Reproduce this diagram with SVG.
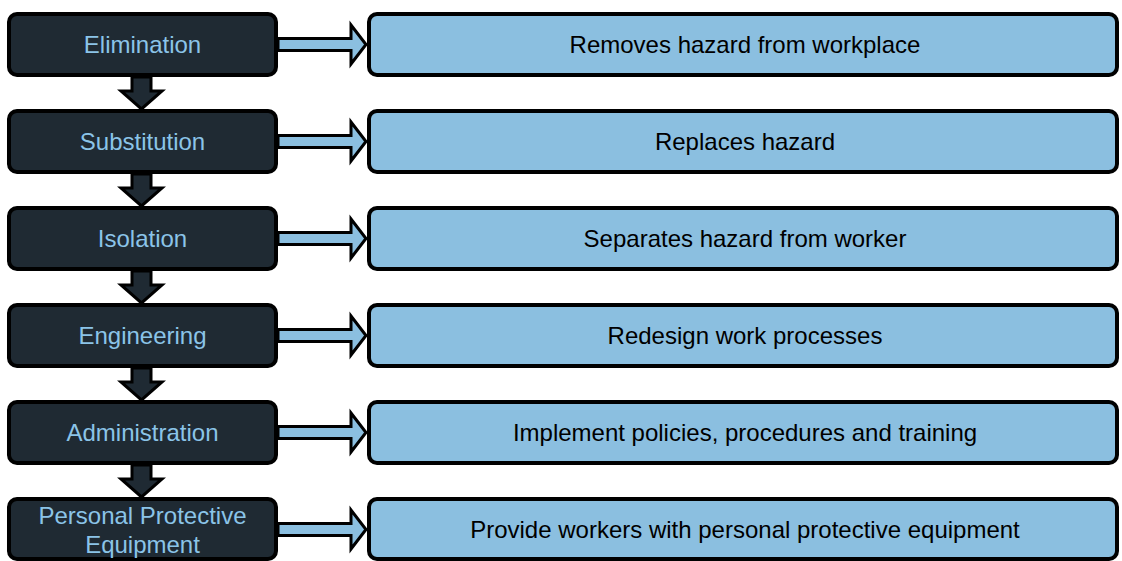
<svg xmlns="http://www.w3.org/2000/svg" width="1122" height="561" viewBox="0 0 1122 561">
<style>
.l{fill:#1f2a33;stroke:#000;stroke-width:4}
.r{fill:#8bbfe0;stroke:#000;stroke-width:4}
.lt{font-family:"Liberation Sans",Arial,sans-serif;font-size:24px;fill:#8bc4e8;text-anchor:middle}
.rt{font-family:"Liberation Sans",Arial,sans-serif;font-size:24px;fill:#000;text-anchor:middle}
.da{fill:#1f2a33;stroke:#000;stroke-width:3;stroke-linejoin:miter}
.ra{fill:#8bbfe0;stroke:#000;stroke-width:3;stroke-linejoin:miter}
</style>
<rect width="1122" height="561" fill="#fff"/>
<g id="connectors">
<path class="da" d="M132,77 V91 H121 L141.5,109 L162,91 H151 V77 Z"/>
<path class="da" d="M132,174 V188 H121 L141.5,206 L162,188 H151 V174 Z"/>
<path class="da" d="M132,271 V285 H121 L141.5,303 L162,285 H151 V271 Z"/>
<path class="da" d="M132,368 V382 H121 L141.5,400 L162,382 H151 V368 Z"/>
<path class="da" d="M132,465 V479 H121 L141.5,497 L162,479 H151 V465 Z"/>
<path class="ra" d="M278,38.5 H351 V25 L366,44.5 L351,64 V50.5 H278 Z"/>
<path class="ra" d="M278,135.5 H351 V122 L366,141.5 L351,161 V147.5 H278 Z"/>
<path class="ra" d="M278,232.5 H351 V219 L366,238.5 L351,258 V244.5 H278 Z"/>
<path class="ra" d="M278,329.5 H351 V316 L366,335.5 L351,355 V341.5 H278 Z"/>
<path class="ra" d="M278,426.5 H351 V413 L366,432.5 L351,452 V438.5 H278 Z"/>
<path class="ra" d="M278,523.5 H351 V510 L366,529.5 L351,549 V535.5 H278 Z"/>
</g>
<g id="elimination"><rect class="l" x="9" y="14" width="267" height="61" rx="8"/><text class="lt" x="142.5" y="53">Elimination</text></g>
<g id="substitution"><rect class="l" x="9" y="111" width="267" height="61" rx="8"/><text class="lt" x="142.5" y="150">Substitution</text></g>
<g id="isolation"><rect class="l" x="9" y="208" width="267" height="61" rx="8"/><text class="lt" x="142.5" y="247">Isolation</text></g>
<g id="engineering"><rect class="l" x="9" y="305" width="267" height="61" rx="8"/><text class="lt" x="142.5" y="344">Engineering</text></g>
<g id="administration"><rect class="l" x="9" y="402" width="267" height="61" rx="8"/><text class="lt" x="142.5" y="441">Administration</text></g>
<g id="ppe"><rect class="l" x="9" y="499" width="267" height="60" rx="8"/><text class="lt" x="142.5" y="523.5">Personal Protective</text><text class="lt" x="142.5" y="553">Equipment</text></g>
<g id="removes"><rect class="r" x="369" y="14" width="748" height="61" rx="8"/><text class="rt" x="745" y="53">Removes hazard from workplace</text></g>
<g id="replaces"><rect class="r" x="369" y="111" width="748" height="61" rx="8"/><text class="rt" x="745" y="150">Replaces hazard</text></g>
<g id="separates"><rect class="r" x="369" y="208" width="748" height="61" rx="8"/><text class="rt" x="745" y="247">Separates hazard from worker</text></g>
<g id="redesign"><rect class="r" x="369" y="305" width="748" height="61" rx="8"/><text class="rt" x="745" y="344">Redesign work processes</text></g>
<g id="implement"><rect class="r" x="369" y="402" width="748" height="61" rx="8"/><text class="rt" x="745" y="441">Implement policies, procedures and training</text></g>
<g id="provide"><rect class="r" x="369" y="499" width="748" height="60" rx="8"/><text class="rt" x="745" y="538">Provide workers with personal protective equipment</text></g>
</svg>
